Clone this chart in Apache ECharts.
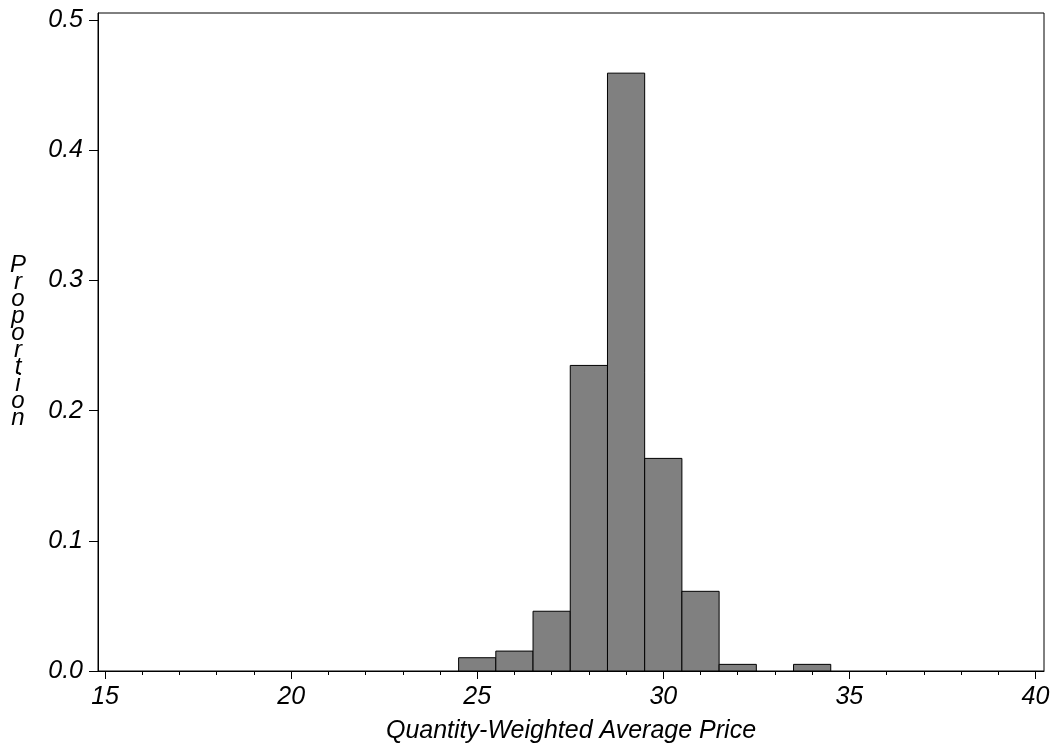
<!DOCTYPE html>
<html>
<head>
<meta charset="utf-8">
<script src="https://cdn.jsdelivr.net/npm/echarts@6/dist/echarts.min.js"></script>
<style>
html,body{margin:0;padding:0;background:#fff;}
#chart{width:1055px;height:744px;}
</style>
</head>
<body>
<div id="chart"></div>
<script>
// Data
const binCenters = [25, 26, 27, 28, 29, 30, 31, 32, 33, 34];
const proportions = [0.0102, 0.0153, 0.0459, 0.2347, 0.4592, 0.1633, 0.0612, 0.0051, 0, 0.0051];
const binWidth = 1;
const xMajorTicks = [15, 20, 25, 30, 35, 40];
const xMinorTicks = [15,16,17,18,19,20,21,22,23,24,25,26,27,28,29,30,31,32,33,34,35,36,37,38,39,40];
const yTicks = [0, 0.1, 0.2, 0.3, 0.4, 0.5];
const xTitle = 'Quantity-Weighted Average Price';
const yTitle = 'Proportion';

const FONT = 'Liberation Sans, Arial, sans-serif';
const chart = echarts.init(document.getElementById('chart'));
const labelStyle = {color: '#000', fontSize: 25, fontStyle: 'italic', fontFamily: FONT};

const option = {
  animation: false,
  grid: {left: 98, right: 11, top: 13, bottom: 73, outerBoundsMode: 'none', containLabel: false,
         show: true, borderColor: '#000', borderWidth: 1, backgroundColor: 'transparent'},
  xAxis: [{
    type: 'value', min: 14.81, max: 40.23,
    axisLine: {show: true, lineStyle: {color: '#000', width: 1}},
    splitLine: {show: false},
    axisTick: {show: true, length: 8, customValues: xMajorTicks, lineStyle: {color: '#000'}},
    axisLabel: Object.assign({show: true, margin: 14, customValues: xMajorTicks, formatter: v => String(v)}, labelStyle),
    name: xTitle, nameLocation: 'middle', nameGap: 48,
    nameTextStyle: labelStyle
  }, {
    type: 'value', min: 14.81, max: 40.23, position: 'bottom',
    axisLine: {show: false},
    splitLine: {show: false},
    axisTick: {show: true, length: 4, customValues: xMinorTicks, lineStyle: {color: '#000'}},
    axisLabel: {show: false}
  }],
  yAxis: {
    type: 'value', min: 0, max: 0.5054,
    axisLine: {show: true, lineStyle: {color: '#000', width: 1}},
    splitLine: {show: false},
    axisTick: {show: true, length: 9, customValues: yTicks, lineStyle: {color: '#000'}},
    axisLabel: Object.assign({show: true, margin: 15, customValues: yTicks, formatter: v => v.toFixed(1)}, labelStyle),
    name: yTitle.split('').join('\n'), nameLocation: 'middle', nameGap: 80, nameRotate: 0,
    nameTextStyle: Object.assign({}, labelStyle, {fontSize: 24, lineHeight: 17, align: 'center', verticalAlign: 'middle'})
  },
  series: [{
    type: 'custom',
    xAxisIndex: 0,
    data: binCenters.map((c, i) => [c, proportions[i]]),
    renderItem: function (params, api) {
      const c = api.value(0), v = api.value(1);
      if (!v) return null;
      const p0 = api.coord([c - binWidth / 2, v]);
      const p1 = api.coord([c + binWidth / 2, 0]);
      return {
        type: 'rect',
        shape: {x: p0[0], y: p0[1], width: p1[0] - p0[0], height: p1[1] - p0[1]},
        style: {fill: '#808080', stroke: '#000', lineWidth: 1}
      };
    }
  }]
};
chart.setOption(option);
</script>
</body>
</html>
